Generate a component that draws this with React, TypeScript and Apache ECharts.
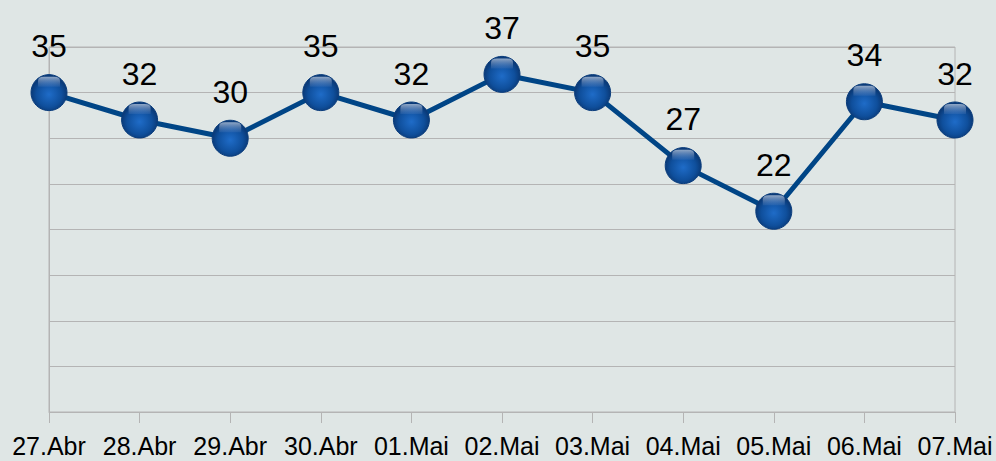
import React, { useEffect, useRef } from "react";
import * as echarts from "echarts";

const categories = ["27.Abr", "28.Abr", "29.Abr", "30.Abr", "01.Mai", "02.Mai", "03.Mai", "04.Mai", "05.Mai", "06.Mai", "07.Mai"];
const values = [35, 32, 30, 35, 32, 37, 35, 27, 22, 34, 32];

export default function App() {
  const ref = useRef<HTMLDivElement>(null);
  useEffect(() => {
    if (!ref.current) return;
    const chart = echarts.init(ref.current, null, { renderer: "svg" });
    chart.setOption({
      animation: false,
      backgroundColor: "#dfe6e5",
      grid: {
        left: 49,
        right: 41,
        top: 47,
        bottom: 49,
        show: true,
        borderColor: "#b4b4b4",
        borderWidth: 1,
        backgroundColor: "transparent",
      },
      xAxis: {
        type: "category",
        data: categories,
        boundaryGap: false,
        axisLine: { show: true, lineStyle: { color: "#b4b4b4", width: 1 } },
        axisTick: { show: true, length: 11, alignWithLabel: true, lineStyle: { color: "#b4b4b4" } },
        axisLabel: {
          interval: 0,
          fontSize: 25,
          color: "#000",
          fontFamily: "Liberation Sans",
          margin: 21,
        },
        splitLine: { show: false },
      },
      yAxis: {
        type: "value",
        min: 0,
        max: 40,
        interval: 5,
        axisLabel: { show: false },
        axisTick: { show: false },
        axisLine: { show: true, lineStyle: { color: "#b4b4b4" } },
        splitLine: { show: true, lineStyle: { color: "#b4b4b4", width: 1 } },
      },
      series: [
        {
          type: "line",
          data: values,
          symbol: "circle",
          symbolSize: 36,
          lineStyle: { color: "#004586", width: 5 },
          itemStyle: {
            color: {
              type: "radial",
              x: 0.5,
              y: 0.55,
              r: 0.5,
              colorStops: [
                { offset: 0, color: "#1f6cc8" },
                { offset: 0.7, color: "#0f4f9c" },
                { offset: 1, color: "#0a3a78" },
              ],
            },
            borderColor: "#0b3d7c",
            borderWidth: 1,
          },
          label: {
            show: true,
            position: "top",
            distance: 12,
            fontSize: 32,
            color: "#000",
            fontFamily: "Liberation Sans",
          },
          z: 3,
        },
        {
          type: "line",
          data: values,
          silent: true,
          symbol: "path://M0,10 L0,4 Q0,0 6,0 L16,0 Q22,0 22,4 L22,10 Z",
          symbolSize: [22, 10],
          symbolOffset: [0, -11],
          showAllSymbol: true,
          lineStyle: { width: 0, opacity: 0 },
          itemStyle: {
            color: {
              type: "linear",
              x: 0,
              y: 0,
              x2: 0,
              y2: 1,
              colorStops: [
                { offset: 0, color: "rgba(190,205,225,0.75)" },
                { offset: 1, color: "rgba(120,150,200,0.15)" },
              ],
            },
          },
          label: { show: false },
          z: 4,
        },
      ],
    });
    return () => chart.dispose();
  }, []);
  return <div ref={ref} style={{ width: 996, height: 461, position: "absolute", left: 0, top: 0 }} />;
}
